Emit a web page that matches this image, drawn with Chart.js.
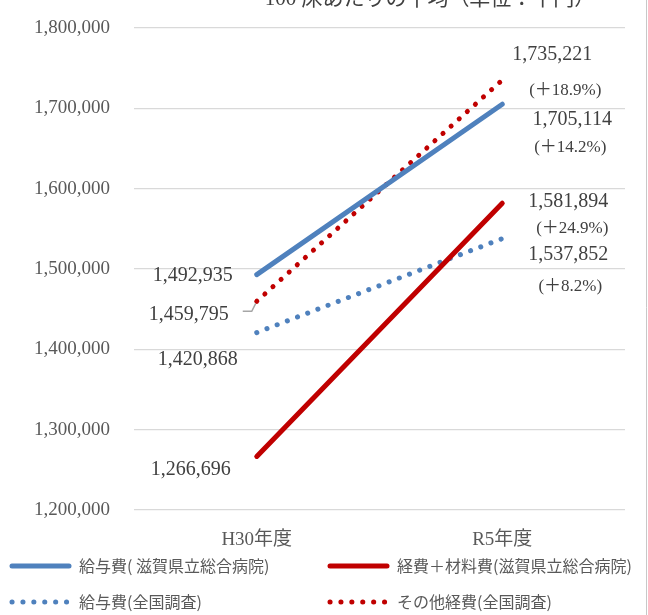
<!DOCTYPE html>
<html>
<head>
<meta charset="utf-8">
<script src="https://cdn.jsdelivr.net/npm/chart.js@4/dist/chart.umd.min.js"></script>
<style>
  html, body { margin: 0; padding: 0; background: #fff; }
  canvas { display: block; }
</style>
</head>
<body>
<canvas id="costChart" width="648" height="615"></canvas>
<script>
// 100床あたりの平均（単位：千円）
const years = ['H30年度', 'R5年度'];

const salaryShiga = [1492935, 1705114];
const expenseShiga = [1266696, 1581894];
const salaryNational = [1420868, 1537852];
const otherNational = [1459795, 1735221];

const seriesNames = [
    '給与費( 滋賀県立総合病院)',
    '経費＋材料費(滋賀県立総合病院)',
    '給与費(全国調査)',
    'その他経費(全国調査)'
];

const yTicks = [1200000, 1300000, 1400000, 1500000, 1600000, 1700000, 1800000];

const BLUE = '#4f81bd';
const RED = '#c00000';
const SERIF = '"Liberation Serif", "Noto Sans CJK JP", serif';
const SANS = '"Noto Sans CJK JP", "Noto Sans", sans-serif';

const fmt = (v) => v.toLocaleString('en-US');
const pct = (a, b) => '(＋' + ((b / a - 1) * 100).toFixed(1) + '%)';

// label offsets from each point, [dx, dy] for H30 value, R5 value, R5 percent
const labelOffsets = [
    [[-64, 1], [70, 16], [68, 43]],
    [[-66, 13], [66, -1], [70, 25]],
    [[-59, 27], [66, 16], [68, 48]],
    [[-68, 13], [50, -25], [63, 10]]
];

// legend slots: line start x, baseline y
const legendSlots = [[12, 566], [330, 566], [12, 602], [330, 602]];

const annotate = {
    id: 'annotate',
    afterDraw(chart) {
        const ctx = chart.ctx;
        ctx.save();

        // title (top edge of the frame)
        ctx.fillStyle = '#404040';
        ctx.font = '21px ' + SERIF;
        ctx.textAlign = 'center';
        ctx.textBaseline = 'alphabetic';
        ctx.fillText('100 床あたりの平均（単位：千円）', 430, 5);

        // data labels
        ctx.textBaseline = 'middle';
        chart.data.datasets.forEach((ds, i) => {
            const pts = chart.getDatasetMeta(i).data;
            const off = labelOffsets[i];
            ctx.fillStyle = '#404040';
            ctx.font = '20px ' + SERIF;
            ctx.fillText(fmt(ds.data[0]), pts[0].x + off[0][0], pts[0].y + off[0][1]);
            ctx.fillText(fmt(ds.data[1]), pts[1].x + off[1][0], pts[1].y + off[1][1]);
            ctx.font = '17px ' + SERIF;
            ctx.fillText(pct(ds.data[0], ds.data[1]), pts[1].x + off[2][0], pts[1].y + off[2][1]);
        });

        // leader line for the national other-expense H30 label
        const p = chart.getDatasetMeta(3).data[0];
        ctx.strokeStyle = '#a6a6a6';
        ctx.lineWidth = 1.5;
        ctx.beginPath();
        ctx.moveTo(p.x - 14, p.y + 10);
        ctx.lineTo(p.x - 5, p.y + 10);
        ctx.lineTo(p.x - 1, p.y + 2);
        ctx.stroke();

        // legend
        ctx.textAlign = 'left';
        ctx.font = '16px ' + SANS;
        chart.data.datasets.forEach((ds, i) => {
            const [lx, ly] = legendSlots[i];
            ctx.strokeStyle = ds.borderColor;
            ctx.lineWidth = 5;
            ctx.lineCap = 'round';
            ctx.setLineDash(ds.borderDash || []);
            ctx.beginPath();
            ctx.moveTo(lx, ly);
            ctx.lineTo(lx + 57, ly);
            ctx.stroke();
            ctx.setLineDash([]);
            ctx.fillStyle = '#595959';
            ctx.fillText(ds.label, lx + 67, ly);
        });

        // frame edge
        ctx.strokeStyle = '#c8c8c8';
        ctx.lineWidth = 1;
        ctx.beginPath();
        ctx.moveTo(646.5, 0);
        ctx.lineTo(646.5, chart.height);
        ctx.stroke();

        ctx.restore();
    }
};

const solid = (label, data, color) => ({
    label, data,
    borderColor: color,
    backgroundColor: color,
    borderWidth: 5,
    borderCapStyle: 'round',
    pointRadius: 0,
    tension: 0
});

const dotted = (label, data, color) => Object.assign(solid(label, data, color), {
    borderDash: [0.1, 10.8]
});

new Chart(document.getElementById('costChart'), {
    type: 'line',
    data: {
        labels: years,
        datasets: [
            solid(seriesNames[0], salaryShiga, BLUE),
            solid(seriesNames[1], expenseShiga, RED),
            dotted(seriesNames[2], salaryNational, BLUE),
            dotted(seriesNames[3], otherNational, RED)
        ]
    },
    options: {
        responsive: false,
        animation: false,
        layout: { autoPadding: false, padding: { top: 28, right: 23, bottom: 0, left: 0 } },
        plugins: {
            legend: { display: false },
            tooltip: { enabled: false }
        },
        scales: {
            x: {
                offset: true,
                grid: { display: false },
                border: { display: false },
                ticks: {
                    color: '#595959',
                    font: { family: SERIF, size: 19 },
                    padding: 11
                },
                afterFit: (scale) => { scale.height = 105; }
            },
            y: {
                min: yTicks[0],
                max: yTicks[yTicks.length - 1],
                afterBuildTicks: (scale) => { scale.ticks = yTicks.map(v => ({ value: v })); },
                grid: { color: '#d9d9d9', lineWidth: 1.3, drawTicks: false },
                border: { display: false },
                ticks: {
                    color: '#595959',
                    font: { family: SERIF, size: 19 },
                    padding: 24,
                    callback: (v) => fmt(v)
                },
                afterFit: (scale) => {
                    scale.width = 134;
                    scale.paddingTop = 0;
                    scale.paddingBottom = 0;
                }
            }
        }
    },
    plugins: [annotate]
});
</script>
</body>
</html>
